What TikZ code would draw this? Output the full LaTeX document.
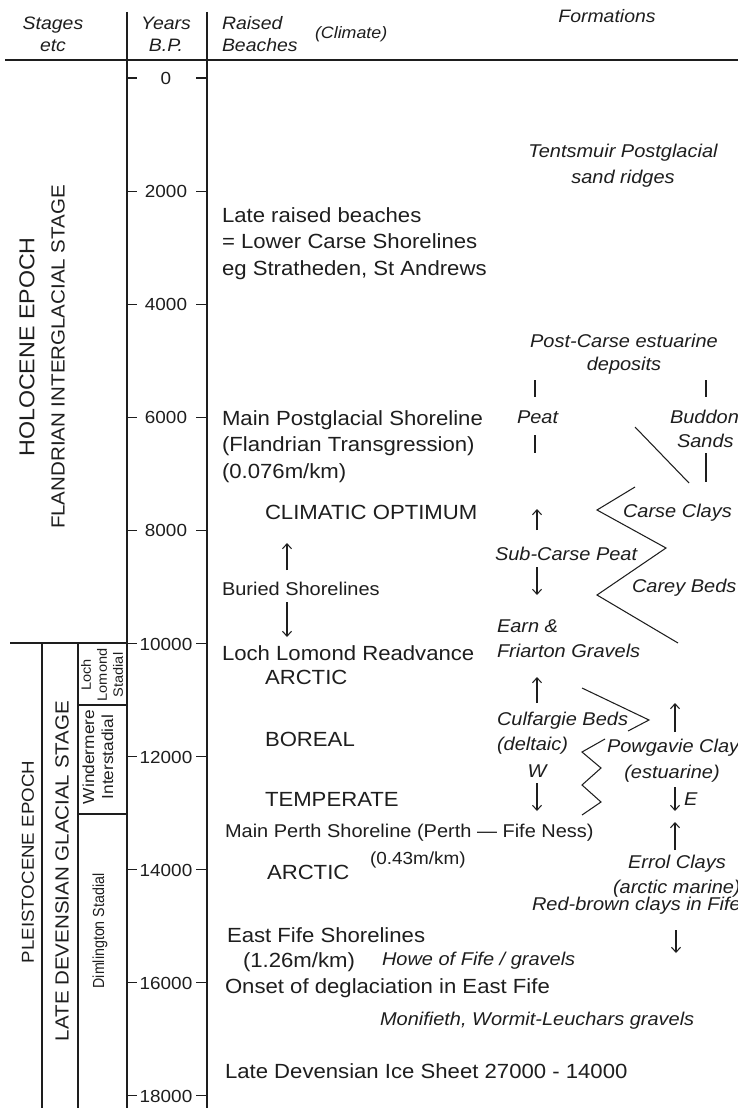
\documentclass[tikz,border=0pt]{standalone}
\usepackage{fontspec}
\setmainfont{Liberation Sans}[FakeStretch=1.08]
\newfontfamily\condfont{Liberation Sans}[FakeStretch=0.89]
\usetikzlibrary{arrows.meta}
\definecolor{ink}{RGB}{30,30,30}
\tikzset{
  every node/.style={inner sep=0pt, outer sep=0pt, text=ink},
  main/.style={font=\fontsize{20.5}{25}\selectfont, anchor=base west},
  small/.style={font=\fontsize{18.5}{22}\selectfont, anchor=base west},
  form/.style={font=\fontsize{18.5}{22}\selectfont\itshape, anchor=base west},
  formc/.style={form, anchor=base},
  head/.style={font=\fontsize{18}{22}\selectfont\itshape},
  yr/.style={font=\fontsize{17.5}{20}\selectfont, anchor=base},
  rule/.style={line width=1.4pt, draw=ink},
  thin/.style={line width=1.05pt, draw=ink},
  arr/.style={thin, -{Straight Barb[length=5pt,width=9pt]}},
  vtext/.style={rotate=90, align=center},
}
\begin{document}
\begin{tikzpicture}[x=1pt, y=-1pt]
\useasboundingbox (0,0) rectangle (738,1108);
\fill[white] (0,0) rectangle (738,1108);
\clip (0,0) rectangle (738,1108);

% ---------- frame ----------
\draw[line width=2.2pt, draw=ink] (5,60) -- (738,60);
\draw[rule] (127,12) -- (127,1108);
\draw[rule] (207,12) -- (207,1108);
\draw[rule] (10,643) -- (127,643);
\draw[rule] (42,643) -- (42,1108);
\draw[rule] (78,643) -- (78,1108);
\draw[rule] (78,705) -- (127,705);
\draw[rule] (78,814) -- (127,814);

% ---------- header ----------
\node[head, anchor=base] (hs1) at (53,30) {Stages};
\node[head, anchor=base] (hs2) at (53,52) {etc};
\node[head, anchor=base] (hy1) at (166,30) {Years};
\node[head, anchor=base] (hy2) at (166,52) {B.P.};
\node[head, anchor=base west] (hr1) at (222,30) {Raised};
\node[head, anchor=base west] (hr2) at (222,52) {Beaches};
\node[head, anchor=base west, font=\fontsize{16.5}{20}\selectfont\itshape] (hc) at (315,39) {(Climate)};
\node[head, anchor=base] (hf) at (607,23) {Formations};

% ---------- year scale ----------
\foreach \k/\v in {0/0,1/2000,2/4000,3/6000,4/8000,5/10000,6/12000,7/14000,8/16000,9/18000}{
  \node[yr] (yr\k) at (166,{84.5+113.1*\k}) {\v};
  \draw[thin] (127,{78+113.1*\k}) -- (137,{78+113.1*\k});
  \draw[thin] (196,{78+113.1*\k}) -- (207,{78+113.1*\k});
}

% ---------- stage labels ----------
\node[vtext, font=\fontsize{21.5}{26}\selectfont] (holo) at (27,347) {HOLOCENE EPOCH};
\node[vtext, font=\fontsize{19}{23}\selectfont] (fland) at (58,357) {FLANDRIAN INTERGLACIAL STAGE};
\node[vtext, font=\fontsize{17.3}{21}\selectfont] (pleis) at (28,862) {PLEISTOCENE EPOCH};
\node[vtext, font=\fontsize{19}{23}\selectfont] (ldgs) at (62,871) {LATE DEVENSIAN GLACIAL STAGE};
\node[vtext, font=\condfont\fontsize{16}{19}\selectfont] (dim) at (100,931) {Dimlington Stadial};
\node[vtext, font=\fontsize{16}{19}\selectfont] (wind) at (98,757) {Windermere\\Interstadial};
\node[vtext, font=\fontsize{13.5}{16}\selectfont] (lls) at (102,675) {Loch\\Lomond\\Stadial};

% ---------- raised beaches / climate ----------
\node[main] (lrb1) at (222,222) {Late raised beaches};
\node[main] (lrb2) at (222,248.5) {= Lower Carse Shorelines};
\node[main] (lrb3) at (222,275) {eg Stratheden, St Andrews};
\node[main] (mps1) at (222,425) {Main Postglacial Shoreline};
\node[main] (mps2) at (222,451) {(Flandrian Transgression)};
\node[main] (mps3) at (222,478) {(0.076m/km)};
\node[main] (co) at (265,519) {CLIMATIC OPTIMUM};
\node[small] (bur) at (222,595) {Buried Shorelines};
\node[main] (llr) at (222,660) {Loch Lomond Readvance};
\node[main] (arc1) at (265,684) {ARCTIC};
\node[main] (bor) at (265,746) {BOREAL};
\node[main] (temp) at (265,806) {TEMPERATE};
\node[small] (mpsh) at (225,837) {Main Perth Shoreline (Perth --- Fife Ness)};
\node[small, font=\fontsize{17.5}{20}\selectfont] (mpr) at (370,864) {(0.43m/km)};
\node[main] (arc2) at (267,879) {ARCTIC};
\node[main] (efs) at (227,942) {East Fife Shorelines};
\node[main] (efr) at (243,967) {(1.26m/km)};
\node[form] (howe) at (382,965) {Howe of Fife / gravels};
\node[main] (onset) at (225,993) {Onset of deglaciation in East Fife};
\node[form] (moni) at (380,1025) {Monifieth, Wormit-Leuchars gravels};
\node[main] (ldis) at (225,1078) {Late Devensian Ice Sheet 27000 - 14000};

\coordinate (bu1) at (287,570);
\coordinate (bu2) at (287,543);
\coordinate (bd1) at (287,602);
\coordinate (bd2) at (287,637);
\draw[arr] (bu1) -- (bu2);
\draw[arr] (bd1) -- (bd2);

% ---------- formations ----------
\node[formc] (tent1) at (623,157) {Tentsmuir Postglacial};
\node[formc] (tent2) at (623,183) {sand ridges};
\node[formc] (pce1) at (624,347) {Post-Carse estuarine};
\node[formc] (pce2) at (624,370) {deposits};
\node[form] (peat) at (517,423) {Peat};
\node[form] (bud1) at (670,423) {Buddon};
\node[form] (bud2) at (677,447) {Sands};
\node[form] (cc) at (623,517) {Carse Clays};
\node[form] (scp) at (495,560) {Sub-Carse Peat};
\node[form] (cb) at (632,592) {Carey Beds};
\node[form] (earn1) at (497,632) {Earn \&};
\node[form] (earn2) at (497,657) {Friarton Gravels};
\node[form] (cul1) at (497,725) {Culfargie Beds};
\node[form] (cul2) at (497,750) {(deltaic)};
\node[formc] (w) at (537,777) {W};
\node[form] (pow1) at (607,752) {Powgavie Clay};
\node[formc] (pow2) at (672,778) {(estuarine)};
\node[form] (e) at (684,805) {E};
\node[formc] (err1) at (677,868) {Errol Clays};
\node[form] (err2) at (613,893) {(arctic marine)};
\node[form] (rbc) at (532,910) {Red-brown clays in Fife};

% bars
\draw[thin] (535,380) -- (535,397);
\draw[thin] (535,435) -- (535,453);
\draw[thin] (706,380) -- (706,397);
\draw[thin] (706,453) -- (706,482);
\draw[thin] (635,427) -- (689,483);

% zigzags
\draw[thin] (635,487) -- (597,510) -- (666,548) -- (597,595) -- (678,643);
\draw[thin] (582,688) -- (649,720) -- (628,731);
\draw[thin] (605,739) -- (582,752) -- (601,768) -- (582,785) -- (601,802) -- (582,815);

% arrows
\coordinate (fa1) at (537,530); \coordinate (fa2) at (537,509);
\coordinate (fa3) at (537,567); \coordinate (fa4) at (537,595);
\coordinate (fa5) at (537,703); \coordinate (fa6) at (537,677);
\coordinate (fa7) at (537,783); \coordinate (fa8) at (537,811);
\coordinate (fb1) at (675,732); \coordinate (fb2) at (675,703);
\coordinate (fb3) at (675,787); \coordinate (fb4) at (675,811);
\coordinate (fb5) at (675,850); \coordinate (fb6) at (675,822);
\coordinate (fb7) at (676,930); \coordinate (fb8) at (676,953);
\draw[arr] (fa1) -- (fa2);
\draw[arr] (fa3) -- (fa4);
\draw[arr] (fa5) -- (fa6);
\draw[arr] (fa7) -- (fa8);
\draw[arr] (fb1) -- (fb2);
\draw[arr] (fb3) -- (fb4);
\draw[arr] (fb5) -- (fb6);
\draw[arr] (fb7) -- (fb8);
\end{tikzpicture}
\end{document}
